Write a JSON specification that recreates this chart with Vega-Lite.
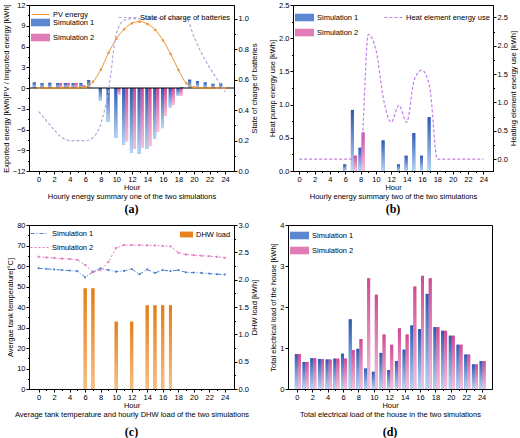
{
 "$schema": "https://vega.github.io/schema/vega-lite/v6.json",
 "background": "white",
 "padding": {"left": 1, "top": 0, "right": 0, "bottom": 0},
 "datasets": {
  "a_bars": [
   {"h":-0.5,"s":"Simulation 1","v":0.8},{"h":0.5,"s":"Simulation 1","v":0.7},{"h":1.5,"s":"Simulation 1","v":0.75},{"h":2.5,"s":"Simulation 1","v":0.7},{"h":3.5,"s":"Simulation 1","v":0.72},{"h":4.5,"s":"Simulation 1","v":0.72},{"h":5.5,"s":"Simulation 1","v":0.72},{"h":6.5,"s":"Simulation 1","v":1.15},
   {"h":8,"s":"Simulation 1","v":-1.8},{"h":9,"s":"Simulation 1","v":-4.9},{"h":10,"s":"Simulation 1","v":-7.2},{"h":11,"s":"Simulation 1","v":-8.2},{"h":12,"s":"Simulation 1","v":-9.4},{"h":13,"s":"Simulation 1","v":-9.5},{"h":14,"s":"Simulation 1","v":-8.8},{"h":15,"s":"Simulation 1","v":-7.3},{"h":16,"s":"Simulation 1","v":-5.8},{"h":17,"s":"Simulation 1","v":-2.8},{"h":18,"s":"Simulation 1","v":-1.1},
   {"h":18.5,"s":"Simulation 1","v":0.15},{"h":19.5,"s":"Simulation 1","v":1.2},{"h":20.5,"s":"Simulation 1","v":1.0},{"h":21.5,"s":"Simulation 1","v":0.8},{"h":22.5,"s":"Simulation 1","v":0.6},{"h":23.5,"s":"Simulation 1","v":0.65},
   {"h":2.5,"s":"Simulation 2","v":0.7},{"h":3.5,"s":"Simulation 2","v":0.72},{"h":4.5,"s":"Simulation 2","v":0.72},{"h":5.5,"s":"Simulation 2","v":0.35},
   {"h":10,"s":"Simulation 2","v":-1.0},{"h":11,"s":"Simulation 2","v":-7.7},{"h":12,"s":"Simulation 2","v":-8.8},{"h":13,"s":"Simulation 2","v":-8.6},{"h":14,"s":"Simulation 2","v":-8.4},{"h":15,"s":"Simulation 2","v":-6.3},{"h":16,"s":"Simulation 2","v":-4.0},{"h":17,"s":"Simulation 2","v":-2.4},{"h":18,"s":"Simulation 2","v":-1.1}
  ],
  "a_pv": [
   {"h":0,"v":0},{"h":1,"v":0},{"h":2,"v":0},{"h":3,"v":0},{"h":4,"v":0},{"h":5,"v":0},{"h":6,"v":0.1},{"h":7,"v":0.9},{"h":8,"v":2.65},{"h":9,"v":5.1},{"h":10,"v":7.1},{"h":11,"v":8.5},{"h":12,"v":9.35},{"h":13,"v":9.6},{"h":14,"v":9.25},{"h":15,"v":8.4},{"h":16,"v":6.9},{"h":17,"v":4.9},{"h":18,"v":2.6},{"h":19,"v":0.7},{"h":20,"v":0.1},{"h":21,"v":0},{"h":22,"v":0},{"h":23,"v":0},{"h":24,"v":0}
  ],
  "a_soc": [
   {"h":0,"v":0.39},{"h":1,"v":0.33},{"h":2,"v":0.27},{"h":3,"v":0.22},{"h":4,"v":0.2},{"h":5,"v":0.2},{"h":6,"v":0.2},{"h":7,"v":0.22},{"h":8,"v":0.31},{"h":9,"v":0.53},{"h":10,"v":0.9},{"h":11,"v":0.99},{"h":12,"v":1},{"h":13,"v":1},{"h":14,"v":1},{"h":15,"v":1},{"h":16,"v":1},{"h":17,"v":1},{"h":18,"v":1},{"h":19,"v":1},{"h":20,"v":0.88},{"h":21,"v":0.77},{"h":22,"v":0.68},{"h":23,"v":0.6},{"h":24,"v":0.52}
  ],
  "b_bars": [
   {"h":6,"s":"Simulation 1","v":0.1},{"h":7,"s":"Simulation 1","v":0.92},{"h":8,"s":"Simulation 1","v":0.35},{"h":11,"s":"Simulation 1","v":0.46},{"h":13,"s":"Simulation 1","v":0.1},{"h":14,"s":"Simulation 1","v":0.23},{"h":15,"s":"Simulation 1","v":0.57},{"h":16,"s":"Simulation 1","v":0.23},{"h":17,"s":"Simulation 1","v":0.81},
   {"h":7,"s":"Simulation 2","v":0.23},{"h":8,"s":"Simulation 2","v":0.58}
  ],
  "b_he": [
   {"h":0,"v":0},{"h":1,"v":0},{"h":2,"v":0},{"h":3,"v":0},{"h":4,"v":0},{"h":5,"v":0},{"h":6,"v":0},{"h":7,"v":0},{"h":8,"v":0},{"h":9,"v":2.2},{"h":10,"v":1.93},{"h":11,"v":1.05},{"h":12,"v":0.65},{"h":13,"v":0.95},{"h":14,"v":0.65},{"h":15,"v":1.4},{"h":16,"v":1.57},{"h":17,"v":1.28},{"h":18,"v":0},{"h":19,"v":0},{"h":20,"v":0},{"h":21,"v":0},{"h":22,"v":0},{"h":23,"v":0},{"h":24,"v":0}
  ],
  "c_temp": [
   {"h":0,"s":"Simulation 1","v":58.9},{"h":1,"s":"Simulation 1","v":58.6},{"h":2,"s":"Simulation 1","v":58.3},{"h":3,"s":"Simulation 1","v":58},{"h":4,"s":"Simulation 1","v":57.8},{"h":5,"s":"Simulation 1","v":57.5},{"h":6,"s":"Simulation 1","v":54.5},{"h":7,"s":"Simulation 1","v":57.2},{"h":8,"s":"Simulation 1","v":58.9},{"h":9,"s":"Simulation 1","v":58},{"h":10,"s":"Simulation 1","v":57.2},{"h":11,"s":"Simulation 1","v":57.6},{"h":12,"s":"Simulation 1","v":58.5},{"h":13,"s":"Simulation 1","v":56},{"h":14,"s":"Simulation 1","v":58.3},{"h":15,"s":"Simulation 1","v":56.6},{"h":16,"s":"Simulation 1","v":58},{"h":17,"s":"Simulation 1","v":57.5},{"h":18,"s":"Simulation 1","v":58},{"h":19,"s":"Simulation 1","v":56.9},{"h":20,"s":"Simulation 1","v":56.8},{"h":21,"s":"Simulation 1","v":56.6},{"h":22,"s":"Simulation 1","v":56.3},{"h":23,"s":"Simulation 1","v":56},{"h":24,"s":"Simulation 1","v":55.8},
   {"h":0,"s":"Simulation 2","v":64.5},{"h":1,"s":"Simulation 2","v":64.2},{"h":2,"s":"Simulation 2","v":63.9},{"h":3,"s":"Simulation 2","v":63.6},{"h":4,"s":"Simulation 2","v":63.4},{"h":5,"s":"Simulation 2","v":63},{"h":6,"s":"Simulation 2","v":60.5},{"h":7,"s":"Simulation 2","v":56.9},{"h":8,"s":"Simulation 2","v":58},{"h":9,"s":"Simulation 2","v":62},{"h":10,"s":"Simulation 2","v":68.8},{"h":11,"s":"Simulation 2","v":70.2},{"h":12,"s":"Simulation 2","v":70.2},{"h":13,"s":"Simulation 2","v":70.2},{"h":14,"s":"Simulation 2","v":70.1},{"h":15,"s":"Simulation 2","v":70},{"h":16,"s":"Simulation 2","v":69.8},{"h":17,"s":"Simulation 2","v":69.6},{"h":18,"s":"Simulation 2","v":66.5},{"h":19,"s":"Simulation 2","v":65.6},{"h":20,"s":"Simulation 2","v":65.3},{"h":21,"s":"Simulation 2","v":65},{"h":22,"s":"Simulation 2","v":64.8},{"h":23,"s":"Simulation 2","v":64.5},{"h":24,"s":"Simulation 2","v":64}
  ],
  "c_dhw": [
   {"h":6,"v":1.84},{"h":7,"v":1.84},{"h":10,"v":1.23},{"h":12,"v":1.23},{"h":14,"v":1.53},{"h":15,"v":1.53},{"h":16,"v":1.53},{"h":17,"v":1.53}
  ],
  "d_bars": [
   {"h":0,"s":"Simulation 1","v":0.85},{"h":1,"s":"Simulation 1","v":0.66},{"h":2,"s":"Simulation 1","v":0.75},{"h":3,"s":"Simulation 1","v":0.73},{"h":4,"s":"Simulation 1","v":0.72},{"h":5,"s":"Simulation 1","v":0.74},{"h":6,"s":"Simulation 1","v":0.86},{"h":7,"s":"Simulation 1","v":1.7},{"h":8,"s":"Simulation 1","v":0.98},{"h":9,"s":"Simulation 1","v":0.5},{"h":10,"s":"Simulation 1","v":0.42},{"h":11,"s":"Simulation 1","v":0.88},{"h":12,"s":"Simulation 1","v":0.46},{"h":13,"s":"Simulation 1","v":0.68},{"h":14,"s":"Simulation 1","v":0.96},{"h":15,"s":"Simulation 1","v":1.55},{"h":16,"s":"Simulation 1","v":1.46},{"h":17,"s":"Simulation 1","v":2.32},{"h":18,"s":"Simulation 1","v":1.51},{"h":19,"s":"Simulation 1","v":1.42},{"h":20,"s":"Simulation 1","v":1.3},{"h":21,"s":"Simulation 1","v":1.08},{"h":22,"s":"Simulation 1","v":0.84},{"h":23,"s":"Simulation 1","v":0.6},{"h":24,"s":"Simulation 1","v":0.68},
   {"h":0,"s":"Simulation 2","v":0.85},{"h":1,"s":"Simulation 2","v":0.66},{"h":2,"s":"Simulation 2","v":0.75},{"h":3,"s":"Simulation 2","v":0.73},{"h":4,"s":"Simulation 2","v":0.72},{"h":5,"s":"Simulation 2","v":0.74},{"h":6,"s":"Simulation 2","v":0.74},{"h":7,"s":"Simulation 2","v":0.95},{"h":8,"s":"Simulation 2","v":1.22},{"h":9,"s":"Simulation 2","v":2.7},{"h":10,"s":"Simulation 2","v":2.3},{"h":11,"s":"Simulation 2","v":1.33},{"h":12,"s":"Simulation 2","v":1.08},{"h":13,"s":"Simulation 2","v":1.48},{"h":14,"s":"Simulation 2","v":1.33},{"h":15,"s":"Simulation 2","v":2.5},{"h":16,"s":"Simulation 2","v":2.76},{"h":17,"s":"Simulation 2","v":2.7},{"h":18,"s":"Simulation 2","v":1.51},{"h":19,"s":"Simulation 2","v":1.42},{"h":20,"s":"Simulation 2","v":1.3},{"h":21,"s":"Simulation 2","v":1.08},{"h":22,"s":"Simulation 2","v":0.84},{"h":23,"s":"Simulation 2","v":0.6},{"h":24,"s":"Simulation 2","v":0.68}
  ]
 },
 "config": {
  "font": "Liberation Sans",
  "view": {"stroke": "black", "strokeWidth": 1},
  "axis": {"domainColor": "black", "tickColor": "black", "labelColor": "black", "titleColor": "black", "labelFontSize": 7.5, "titleFontSize": 7.5, "titleFontWeight": "normal", "grid": false, "tickSize": 3, "labelPadding": 1, "titlePadding": 2, "labelOverlap": false, "labelFlush": false, "labelBound": false},
  "legend": {"labelFontSize": 7.5, "labelColor": "black", "padding": 0, "rowPadding": 1, "labelOffset": 3, "symbolStrokeWidth": 1},
  "title": {"color": "black"}
 },
 "vconcat": [
  {
   "hconcat": [
    {
     "width": 205, "height": 166,
     "title": {"text": "(a)", "orient": "bottom", "font": "Liberation Serif", "fontSize": 12, "fontWeight": "bold", "offset": 4},
     "layer": [
      {
       "layer": [
        {
         "data": {"name": "a_bars"},
         "transform": [{"filter": "datum.s == 'Simulation 1'"}],
         "mark": {"type": "bar", "width": 3, "xOffset": -0.5},
         "encoding": {
          "x": {"field": "h", "type": "quantitative", "scale": {"domain": [-0.6, 24.5], "nice": false, "zero": false},
                "axis": {"orient": "bottom", "tickCount": 100, "format": "d", "values": [0,1,2,3,4,5,6,7,8,9,10,11,12,13,14,15,16,17,18,19,20,21,22,23,24], "labelExpr": "datum.value % 2 == 0 ? datum.label : ''", "tickSize": {"condition": {"test": "datum.value % 2 == 0", "value": 3}, "value": 1.5}, "title": ["Hour", "Hourly energy summary one of the two simulations"], "titleLineHeight": 9, "titlePadding": 1}},
          "y": {"field": "v", "type": "quantitative", "stack": null, "scale": {"domain": [-12, 12], "nice": false},
                "axis": {"orient": "left", "tickCount": 100, "format": "d", "values": [-12,-10.5,-9,-7.5,-6,-4.5,-3,-1.5,0,1.5,3,4.5,6,7.5,9,10.5,12], "labelExpr": "datum.value % 3 == 0 ? datum.label : ''", "tickSize": {"condition": {"test": "datum.value % 3 == 0", "value": 3}, "value": 1.5}, "title": "Exported energy [kWh]PV / Imported energy [kWh]"}},
          "fill": {"field": "s", "type": "nominal",
                   "scale": {"domain": ["Simulation 1", "Simulation 2"], "range": ["#5a86d2", "#e07db6"]},
                   "legend": {"title": null, "orient": "none", "legendX": 2, "legendY": 8, "symbolType": "M-1,-0.4H1V0.4H-1Z", "symbolSize": 361, "symbolStrokeWidth": 0}}
         }
        },
        {
         "data": {"name": "a_bars"},
         "transform": [{"filter": "datum.s == 'Simulation 2'"}],
         "mark": {"type": "bar", "width": 3, "xOffset": 2.5},
         "encoding": {
          "x": {"field": "h", "type": "quantitative"},
          "y": {"field": "v", "type": "quantitative", "stack": null},
          "fill": {"field": "s", "type": "nominal"}
         }
        },
        {
         "data": {"name": "a_bars"},
         "transform": [{"filter": "datum.s == 'Simulation 1'"}],
         "mark": {"type": "bar", "width": 3, "xOffset": -0.5, "fill": {"gradient": "linear", "x1": 0, "y1": 0, "x2": 0, "y2": 1, "stops": [{"offset": 0, "color": "#2e58b0"}, {"offset": 1, "color": "#b8d8f6"}]}},
         "encoding": {
          "x": {"field": "h", "type": "quantitative"},
          "y": {"field": "v", "type": "quantitative", "stack": null}
         }
        },
        {
         "data": {"name": "a_bars"},
         "transform": [{"filter": "datum.s == 'Simulation 2'"}],
         "mark": {"type": "bar", "width": 3, "xOffset": 2.5, "fill": {"gradient": "linear", "x1": 0, "y1": 0, "x2": 0, "y2": 1, "stops": [{"offset": 0, "color": "#cf4a93"}, {"offset": 1, "color": "#f6c4de"}]}},
         "encoding": {
          "x": {"field": "h", "type": "quantitative"},
          "y": {"field": "v", "type": "quantitative", "stack": null}
         }
        },
        {
         "data": {"values": [{}]},
         "mark": {"type": "rule", "color": "black", "strokeWidth": 1},
         "encoding": {"y": {"datum": 0, "type": "quantitative"}}
        },
        {
         "data": {"name": "a_pv"},
         "mark": {"type": "line", "interpolate": "monotone", "strokeWidth": 1},
         "encoding": {
          "x": {"field": "h", "type": "quantitative"},
          "y": {"field": "v", "type": "quantitative"},
          "stroke": {"datum": "PV energy", "type": "nominal", "scale": {"range": ["#f0922b"]},
                     "legend": {"title": null, "orient": "none", "legendX": 2, "legendY": 0, "symbolType": "stroke", "symbolSize": 300}}
         }
        },
        {
         "data": {"name": "a_pv"},
         "mark": {"type": "point", "shape": "square", "size": 5, "filled": true, "color": "#f0922b", "opacity": 1},
         "encoding": {
          "x": {"field": "h", "type": "quantitative"},
          "y": {"field": "v", "type": "quantitative"}
         }
        }
       ]
      },
      {
       "data": {"name": "a_soc"},
       "mark": {"type": "line", "interpolate": "monotone", "strokeDash": [3, 2], "strokeWidth": 1.2},
       "encoding": {
        "x": {"field": "h", "type": "quantitative"},
        "y": {"field": "v", "type": "quantitative", "scale": {"domain": [0, 1.09], "nice": false},
              "axis": {"orient": "right", "tickCount": 100, "values": [0,0.1,0.2,0.3,0.4,0.5,0.6,0.7,0.8,0.9,1.0], "format": ".1f", "labelExpr": "round(datum.value*10) % 2 == 0 ? datum.label : ''", "tickSize": {"condition": {"test": "round(datum.value*10) % 2 == 0", "value": 3}, "value": 1.5}, "title": "State of charge of batteries", "titleAngle": 270, "titleBaseline": "top"}},
        "stroke": {"datum": "State of charge of batteries", "type": "nominal", "scale": {"range": ["#b3a8dc"]},
                   "legend": {"title": null, "orient": "top-right", "offset": 3, "symbolType": "stroke", "symbolSize": 324, "symbolDash": [3, 2]}}
       }
      }
     ],
     "resolve": {"scale": {"y": "independent", "stroke": "independent"}, "legend": {"stroke": "independent"}}
    },
    {
     "width": 200, "height": 166,
     "title": {"text": "(b)", "orient": "bottom", "font": "Liberation Serif", "fontSize": 12, "fontWeight": "bold", "offset": 4},
     "layer": [
      {
       "layer": [
        {
         "data": {"name": "b_bars"},
         "transform": [{"filter": "datum.s == 'Simulation 1'"}],
         "mark": {"type": "bar", "width": 3, "xOffset": -0.5},
         "encoding": {
          "x": {"field": "h", "type": "quantitative", "scale": {"domain": [-0.15, 24.6], "nice": false, "zero": false},
                "axis": {"orient": "bottom", "tickCount": 100, "format": "d", "values": [0,1,2,3,4,5,6,7,8,9,10,11,12,13,14,15,16,17,18,19,20,21,22,23,24], "labelExpr": "datum.value % 2 == 0 ? datum.label : ''", "tickSize": {"condition": {"test": "datum.value % 2 == 0", "value": 3}, "value": 1.5}, "title": ["Hour", "Hourly energy summary two of the two simulations"], "titleLineHeight": 9, "titlePadding": 1}},
          "y": {"field": "v", "type": "quantitative", "stack": null, "scale": {"domain": [0, 2.5], "nice": false},
                "axis": {"orient": "left", "tickCount": 100, "values": [0,0.25,0.5,0.75,1,1.25,1.5,1.75,2,2.25,2.5], "format": ".1f", "labelExpr": "round(datum.value*4) % 2 == 0 ? datum.label : ''", "tickSize": {"condition": {"test": "round(datum.value*4) % 2 == 0", "value": 3}, "value": 1.5}, "title": "Heat pump energy use [kWh]"}},
          "fill": {"field": "s", "type": "nominal",
                   "scale": {"domain": ["Simulation 1", "Simulation 2"], "range": ["#5a86d2", "#e07db6"]},
                   "legend": {"title": null, "orient": "none", "legendX": 2, "legendY": 3, "symbolType": "M-1,-0.4H1V0.4H-1Z", "symbolSize": 361, "symbolStrokeWidth": 0}}
         }
        },
        {
         "data": {"name": "b_bars"},
         "transform": [{"filter": "datum.s == 'Simulation 2'"}],
         "mark": {"type": "bar", "width": 3, "xOffset": 2.5},
         "encoding": {
          "x": {"field": "h", "type": "quantitative"},
          "y": {"field": "v", "type": "quantitative", "stack": null},
          "fill": {"field": "s", "type": "nominal"}
         }
        },
        {
         "data": {"name": "b_bars"},
         "transform": [{"filter": "datum.s == 'Simulation 1'"}],
         "mark": {"type": "bar", "width": 3, "xOffset": -0.5, "fill": {"gradient": "linear", "x1": 0, "y1": 0, "x2": 0, "y2": 1, "stops": [{"offset": 0, "color": "#2e58b0"}, {"offset": 1, "color": "#b8d8f6"}]}},
         "encoding": {
          "x": {"field": "h", "type": "quantitative"},
          "y": {"field": "v", "type": "quantitative", "stack": null}
         }
        },
        {
         "data": {"name": "b_bars"},
         "transform": [{"filter": "datum.s == 'Simulation 2'"}],
         "mark": {"type": "bar", "width": 3, "xOffset": 2.5, "fill": {"gradient": "linear", "x1": 0, "y1": 0, "x2": 0, "y2": 1, "stops": [{"offset": 0, "color": "#cf4a93"}, {"offset": 1, "color": "#f6c4de"}]}},
         "encoding": {
          "x": {"field": "h", "type": "quantitative"},
          "y": {"field": "v", "type": "quantitative", "stack": null}
         }
        }
       ]
      },
      {
       "data": {"name": "b_he"},
       "mark": {"type": "line", "interpolate": "monotone", "strokeDash": [3, 2], "strokeWidth": 1.2},
       "encoding": {
        "x": {"field": "h", "type": "quantitative"},
        "y": {"field": "v", "type": "quantitative", "scale": {"domain": [-0.21, 2.72], "nice": false, "zero": false},
              "axis": {"orient": "right", "tickCount": 100, "values": [0,0.25,0.5,0.75,1,1.25,1.5,1.75,2,2.25,2.5], "format": ".1f", "labelExpr": "round(datum.value*4) % 2 == 0 ? datum.label : ''", "tickSize": {"condition": {"test": "round(datum.value*4) % 2 == 0", "value": 3}, "value": 1.5}, "title": "Heating element energy use [kWh]", "titleAngle": 270, "titleBaseline": "top"}},
        "stroke": {"datum": "Heat element energy use", "type": "nominal", "scale": {"range": ["#c17fe6"]},
                   "legend": {"title": null, "orient": "top-right", "offset": 3, "symbolType": "stroke", "symbolSize": 324, "symbolDash": [3, 2]}}
       }
      }
     ],
     "resolve": {"scale": {"y": "independent", "stroke": "independent"}, "legend": {"stroke": "independent"}}
    }
   ],
   "spacing": 9,
   "resolve": {"scale": {"x": "independent", "y": "independent", "fill": "independent", "stroke": "independent", "strokeDash": "independent", "shape": "independent"}, "legend": {"fill": "independent", "stroke": "independent", "strokeDash": "independent", "shape": "independent"}}
  },
  {
   "hconcat": [
    {
     "width": 205, "height": 164,
     "title": {"text": "(c)", "orient": "bottom", "font": "Liberation Serif", "fontSize": 12, "fontWeight": "bold", "offset": 9},
     "layer": [
      {
       "layer": [
        {
         "data": {"name": "c_temp"},
         "mark": {"type": "line", "strokeWidth": 1},
         "encoding": {
          "x": {"field": "h", "type": "quantitative", "scale": {"domain": [-0.6, 24.55], "nice": false, "zero": false},
                "axis": {"orient": "bottom", "tickCount": 100, "format": "d", "values": [0,1,2,3,4,5,6,7,8,9,10,11,12,13,14,15,16,17,18,19,20,21,22,23,24], "labelExpr": "datum.value % 2 == 0 ? datum.label : ''", "tickSize": {"condition": {"test": "datum.value % 2 == 0", "value": 3}, "value": 1.5}, "title": ["Hour", "Average tank temperature and hourly DHW load of the two simulations"], "titleLineHeight": 9, "titlePadding": 1}},
          "y": {"field": "v", "type": "quantitative", "scale": {"domain": [0, 80], "nice": false},
                "axis": {"orient": "left", "tickCount": 100, "format": "d", "values": [0,5,10,15,20,25,30,35,40,45,50,55,60,65,70,75,80], "labelExpr": "datum.value % 10 == 0 ? datum.label : ''", "tickSize": {"condition": {"test": "datum.value % 10 == 0", "value": 3}, "value": 1.5}, "title": "Avergae tank temperature[°C]"}},
          "stroke": {"field": "s", "type": "nominal", "scale": {"domain": ["Simulation 1", "Simulation 2"], "range": ["#4a7fd6", "#e27cc0"]},
                     "legend": {"title": null, "orient": "none", "legendX": 1, "legendY": -1, "symbolType": "M-1,0H1", "symbolSize": 324,
                                "encode": {"symbols": {"update": {"strokeDash": {"signal": "datum.value == 'Simulation 1' ? [4,2,1,2] : [2,2]"}}}}}},
          "strokeDash": {"field": "s", "type": "nominal", "scale": {"domain": ["Simulation 1", "Simulation 2"], "range": [[4, 2, 1, 2], [2, 2]]}, "legend": null}
         }
        },
        {
         "data": {"name": "c_temp"},
         "transform": [{"filter": "datum.s == 'Simulation 1'"}],
         "mark": {"type": "point", "filled": true, "size": 5, "opacity": 1, "shape": "circle", "color": "#4a7fd6"},
         "encoding": {
          "x": {"field": "h", "type": "quantitative"},
          "y": {"field": "v", "type": "quantitative"}
         }
        },
        {
         "data": {"name": "c_temp"},
         "transform": [{"filter": "datum.s == 'Simulation 2'"}],
         "mark": {"type": "point", "filled": true, "size": 4, "opacity": 1, "shape": "square", "color": "#e27cc0"},
         "encoding": {
          "x": {"field": "h", "type": "quantitative"},
          "y": {"field": "v", "type": "quantitative"}
         }
        }
       ]
      },
      {
       "layer": [
        {
         "data": {"name": "c_dhw"},
         "mark": {"type": "bar", "width": 3},
         "encoding": {
          "x": {"field": "h", "type": "quantitative"},
          "y": {"field": "v", "type": "quantitative", "stack": null, "scale": {"domain": [0, 3], "nice": false},
                "axis": {"orient": "right", "tickCount": 100, "values": [0,0.25,0.5,0.75,1,1.25,1.5,1.75,2,2.25,2.5,2.75,3], "format": ".1f", "labelExpr": "round(datum.value*4) % 2 == 0 ? datum.label : ''", "tickSize": {"condition": {"test": "round(datum.value*4) % 2 == 0", "value": 3}, "value": 1.5}, "title": "DHW load [kWh]", "titleAngle": 270, "titleBaseline": "top"}},
          "fill": {"datum": "DHW load", "type": "nominal", "scale": {"range": ["#e8821e"]},
                   "legend": {"title": null, "orient": "top-right", "offset": 3, "symbolType": "M-1,-0.45H1V0.45H-1Z", "symbolSize": 169, "symbolStrokeWidth": 0}}
         }
        },
        {
         "data": {"name": "c_dhw"},
         "mark": {"type": "bar", "width": 3, "fill": {"gradient": "linear", "x1": 0, "y1": 0, "x2": 0, "y2": 1, "stops": [{"offset": 0, "color": "#e47d17"}, {"offset": 1, "color": "#f7c185"}]}},
         "encoding": {
          "x": {"field": "h", "type": "quantitative"},
          "y": {"field": "v", "type": "quantitative", "stack": null}
         }
        }
       ]
      }
     ],
     "resolve": {"scale": {"y": "independent", "fill": "independent"}, "legend": {"fill": "independent"}}
    },
    {
     "width": 204, "height": 164,
     "title": {"text": "(d)", "orient": "bottom", "font": "Liberation Serif", "fontSize": 12, "fontWeight": "bold", "offset": 9},
     "layer": [
      {
       "data": {"name": "d_bars"},
       "transform": [{"filter": "datum.s == 'Simulation 1'"}],
       "mark": {"type": "bar", "width": 3, "xOffset": -0.5},
       "encoding": {
        "x": {"field": "h", "type": "quantitative", "scale": {"domain": [-0.5, 24.7], "nice": false, "zero": false},
              "axis": {"orient": "bottom", "tickCount": 100, "format": "d", "values": [0,1,2,3,4,5,6,7,8,9,10,11,12,13,14,15,16,17,18,19,20,21,22,23,24], "labelExpr": "datum.value % 2 == 0 ? datum.label : ''", "tickSize": {"condition": {"test": "datum.value % 2 == 0", "value": 3}, "value": 1.5}, "title": ["Hour", "Total electrical load of the house in the two simulations"], "titleLineHeight": 9, "titlePadding": 1}},
        "y": {"field": "v", "type": "quantitative", "stack": null, "scale": {"domain": [0, 4], "nice": false},
              "axis": {"orient": "left", "tickCount": 100, "values": [0,0.5,1,1.5,2,2.5,3,3.5,4], "format": "d", "labelExpr": "datum.value % 1 == 0 ? datum.label : ''", "tickSize": {"condition": {"test": "datum.value % 1 == 0", "value": 3}, "value": 1.5}, "title": "Total electrical load of the house [kWh]"}},
        "fill": {"field": "s", "type": "nominal",
                 "scale": {"domain": ["Simulation 1", "Simulation 2"], "range": ["#5a86d2", "#e07db6"]},
                 "legend": {"title": null, "orient": "none", "legendX": 2, "legendY": 1, "symbolType": "M-1,-0.4H1V0.4H-1Z", "symbolSize": 361, "symbolStrokeWidth": 0}}
       }
      },
      {
       "data": {"name": "d_bars"},
       "transform": [{"filter": "datum.s == 'Simulation 2'"}],
       "mark": {"type": "bar", "width": 3, "xOffset": 2.5},
       "encoding": {
        "x": {"field": "h", "type": "quantitative"},
        "y": {"field": "v", "type": "quantitative", "stack": null},
        "fill": {"field": "s", "type": "nominal"}
       }
      },
      {
       "data": {"name": "d_bars"},
       "transform": [{"filter": "datum.s == 'Simulation 1'"}],
       "mark": {"type": "bar", "width": 3, "xOffset": -0.5, "fill": {"gradient": "linear", "x1": 0, "y1": 0, "x2": 0, "y2": 1, "stops": [{"offset": 0, "color": "#2e58b0"}, {"offset": 1, "color": "#b8d8f6"}]}},
       "encoding": {
        "x": {"field": "h", "type": "quantitative"},
        "y": {"field": "v", "type": "quantitative", "stack": null}
       }
      },
      {
       "data": {"name": "d_bars"},
       "transform": [{"filter": "datum.s == 'Simulation 2'"}],
       "mark": {"type": "bar", "width": 3, "xOffset": 2.5, "fill": {"gradient": "linear", "x1": 0, "y1": 0, "x2": 0, "y2": 1, "stops": [{"offset": 0, "color": "#cf4a93"}, {"offset": 1, "color": "#f6c4de"}]}},
       "encoding": {
        "x": {"field": "h", "type": "quantitative"},
        "y": {"field": "v", "type": "quantitative", "stack": null}
       }
      }
     ]
    }
   ],
   "spacing": 10,
   "resolve": {"scale": {"x": "independent", "y": "independent", "fill": "independent", "stroke": "independent", "strokeDash": "independent", "shape": "independent"}, "legend": {"fill": "independent", "stroke": "independent", "strokeDash": "independent", "shape": "independent"}}
  }
 ],
 "spacing": 4,
 "resolve": {"scale": {"x": "independent", "y": "independent", "fill": "independent", "stroke": "independent", "strokeDash": "independent", "shape": "independent"}, "legend": {"fill": "independent", "stroke": "independent", "strokeDash": "independent", "shape": "independent"}}
}
